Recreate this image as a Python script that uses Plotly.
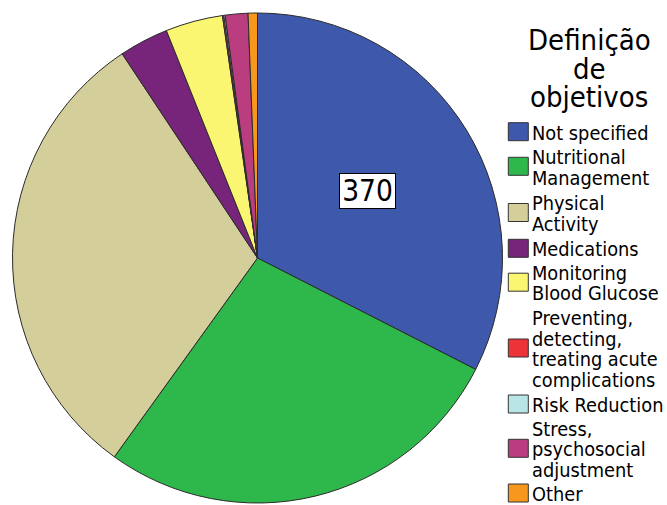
import math
import plotly.graph_objects as go

# Goal-setting categories and their counts
categories = [
    "Not specified",
    "Nutritional Management",
    "Physical Activity",
    "Medications",
    "Monitoring Blood Glucose",
    "Preventing, detecting, treating acute complications",
    "Risk Reduction",
    "Stress, psychosocial adjustment",
    "Other",
]
legend_labels = [
    ["Not specified"],
    ["Nutritional", "Management"],
    ["Physical", "Activity"],
    ["Medications"],
    ["Monitoring", "Blood Glucose"],
    ["Preventing,", "detecting,", "treating acute", "complications"],
    ["Risk Reduction"],
    ["Stress,", "psychosocial", "adjustment"],
    ["Other"],
]
counts = [370, 312, 350, 37, 43, 1, 1, 17, 7]
colors = [
    "#3E58AC", "#2EB84C", "#D3CE9A", "#76257A", "#FAF672",
    "#EE3338", "#B8E5E6", "#BA3D80", "#F7981D",
]
legend_title = ["Definição", "de", "objetivos"]

W, H = 667, 505
FONT = "DejaVu Sans Condensed, DejaVu Sans, sans-serif"

# pie geometry (pixels)
cx, cy, R = 257.5, 258.0, 245.0


def px(x):
    return x / W


def py(y):
    return 1 - y / H


fig = go.Figure()
fig.add_trace(go.Pie(
    labels=categories,
    values=counts,
    sort=False,
    direction="clockwise",
    rotation=0,
    textinfo="none",
    hoverinfo="label+value",
    marker=dict(colors=colors, line=dict(color="#2b2b2b", width=1)),
    domain=dict(x=[px(cx - R), px(cx + R)], y=[py(cy + R), py(cy - R)]),
    showlegend=False,
))

annotations = []
shapes = []

# value label on the first slice, placed on its mid-angle
total = sum(counts)
mid = math.radians(counts[0] / total * 180.0)
lx = cx + 0.525 * R * math.sin(mid)
ly = cy - 0.525 * R * math.cos(mid)
annotations.append(dict(
    x=px(lx), y=py(ly), xref="paper", yref="paper",
    text=f"{counts[0]}", showarrow=False,
    font=dict(family=FONT, size=29.5, color="black"),
    bgcolor="white", bordercolor="black", borderwidth=1,
    width=55, height=34, borderpad=0,
))

# legend title
for i, line in enumerate(legend_title):
    annotations.append(dict(
        x=px(589), y=py(40 + i * 28.5), xref="paper", yref="paper",
        text=line, showarrow=False, xanchor="center", yanchor="middle",
        font=dict(family=FONT, size=29, color="black"),
    ))

# legend rows: swatch centres in pixels
row_centres = [131.7, 166.3, 212.5, 248.3, 282.2, 348.0, 404.0, 448.3, 493.0]
line_step = 20.4
for lines, col, yc in zip(legend_labels, colors, row_centres):
    shapes.append(dict(
        type="rect", xref="paper", yref="paper",
        x0=px(508.3), x1=px(528.3), y0=py(yc - 9), y1=py(yc + 9),
        fillcolor=col, line=dict(color="#333333", width=1),
    ))
    n = len(lines)
    bc = yc + 1.5
    for j, t in enumerate(lines):
        y = bc + (j - (n - 1) / 2) * line_step
        annotations.append(dict(
            x=px(529.5), y=py(y), xref="paper", yref="paper",
            text=t, showarrow=False, xanchor="left", yanchor="middle",
            font=dict(family=FONT, size=19.8, color="black"),
        ))

fig.update_layout(
    width=W, height=H,
    margin=dict(l=0, r=0, t=0, b=0),
    paper_bgcolor="white", plot_bgcolor="white",
    annotations=annotations, shapes=shapes,
    showlegend=False,
)

fig.write_html("out.html")
